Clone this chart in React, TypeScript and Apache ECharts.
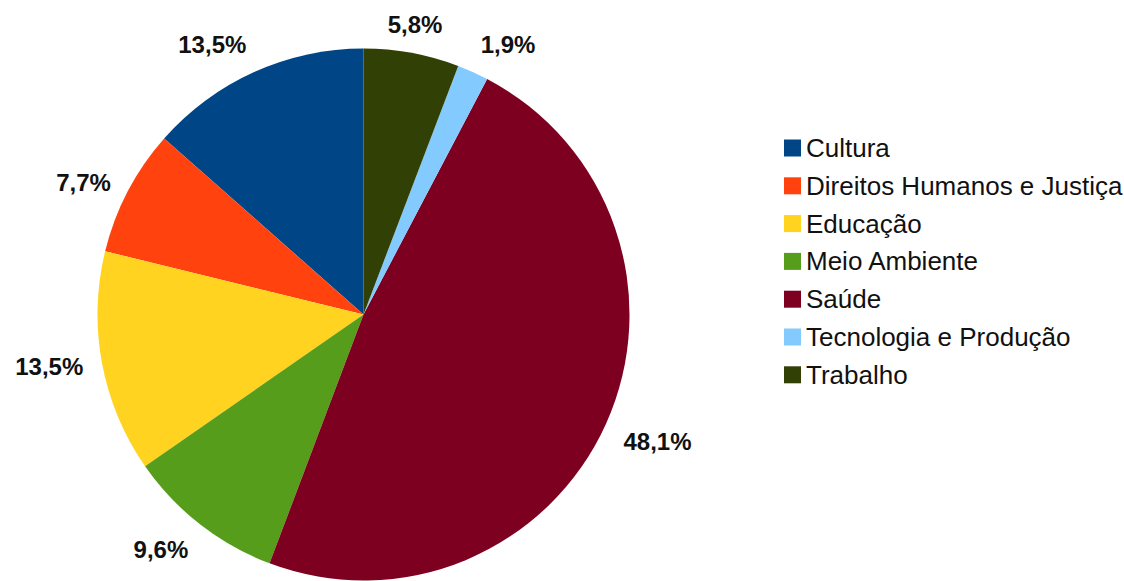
import React, { useEffect, useRef } from "react";
import * as echarts from "echarts";

const categories = [
  "Cultura",
  "Direitos Humanos e Justiça",
  "Educação",
  "Meio Ambiente",
  "Saúde",
  "Tecnologia e Produção",
  "Trabalho",
];
const percentages = [13.5, 7.7, 13.5, 9.6, 48.1, 1.9, 5.8];
const colors = ["#004586", "#ff420e", "#ffd320", "#579d1c", "#7e0021", "#83caff", "#314004"];

const CX = 363.5;
const CY = 314.5;
const R = 266;
const LABEL_R = 285;

export default function App() {
  const ref = useRef<HTMLDivElement>(null);
  useEffect(() => {
    if (!ref.current) return;
    const chart = echarts.init(ref.current, null, { renderer: "svg" });
    const data = categories.map((name, i) => ({
      name,
      value: percentages[i],
      itemStyle: { color: colors[i] },
    }));
    const total = percentages.reduce((a, b) => a + b, 0);
    const midAngles: number[] = [];
    let acc = 0;
    percentages.forEach((v) => {
      const start = 90 + (acc / total) * 360;
      acc += v;
      const end = 90 + (acc / total) * 360;
      midAngles.push(((start + end) / 2) * (Math.PI / 180));
    });
    const fmt = (p: any) => p.value.toFixed(1).replace(".", ",") + "%";
    chart.setOption({
      animation: false,
      backgroundColor: "#ffffff",
      legend: {
        orient: "vertical",
        left: 779,
        top: 130,
        icon: "rect",
        itemWidth: 17,
        itemHeight: 17,
        itemGap: 11.8,
        data: categories,
        textStyle: {
          fontFamily: "'Liberation Sans', Arial, sans-serif",
          fontSize: 26,
          lineHeight: 25,
          color: "#111",
        },
      },
      series: [
        {
          type: "pie",
          center: [CX, CY],
          radius: [0, R],
          startAngle: 90,
          clockwise: false,
          avoidLabelOverlap: false,
          label: {
            show: true,
            position: "outside",
            formatter: fmt,
            fontFamily: "'Liberation Sans', Arial, sans-serif",
            fontWeight: "bold",
            fontSize: 24,
            lineHeight: 20,
            color: "#111",
          },
          labelLine: { show: false },
          labelLayout: (p: any) => {
            const a = midAngles[p.dataIndex];
            const c = Math.cos(a);
            const s = Math.sin(a);
            const x = CX + LABEL_R * c;
            const y = CY - LABEL_R * s;
            const align = c > 0.3 ? "left" : c < -0.3 ? "right" : "center";
            const verticalAlign = s > 0.5 ? "bottom" : s < -0.35 ? "top" : "middle";
            return { x, y, align, verticalAlign };
          },
          emphasis: { disabled: true },
          data,
        },
      ],
    });
    return () => chart.dispose();
  }, []);
  return (
    <div
      ref={ref}
      style={{ position: "fixed", left: 0, top: 0, width: 1124, height: 581 }}
    />
  );
}
